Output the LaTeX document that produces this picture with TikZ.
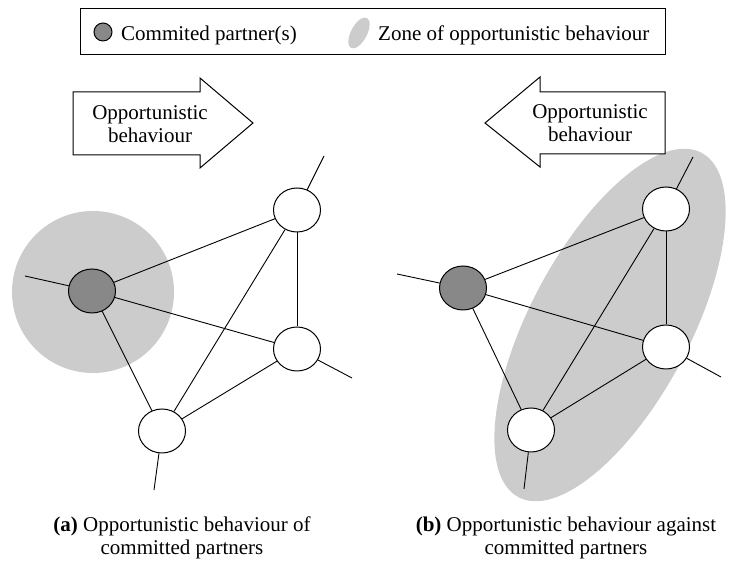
\documentclass[tikz,border=0pt]{standalone}
\usepackage{fontspec}
\setmainfont{Liberation Serif}
\usetikzlibrary{shapes.geometric}
\definecolor{zonegray}{RGB}{204,204,204}
\definecolor{darkpartner}{RGB}{136,136,136}
\tikzset{
  partner/.style={ellipse, draw=black, line width=1pt, fill=white, minimum width=47pt, minimum height=44pt, inner sep=0pt},
  committed/.style={partner, fill=darkpartner},
  link/.style={draw=black, line width=0.9pt},
  zone/.style={fill=zonegray},
  bigarrow/.style={draw=black, fill=white, line width=1pt},
  txt/.style={inner sep=0pt, anchor=base},
  txtw/.style={inner sep=0pt, anchor=base west}
}
\begin{document}
\begin{tikzpicture}[x=1pt,y=1pt,font=\fontsize{21}{23}\selectfont]
\useasboundingbox (0,0) rectangle (730,561);
% legend
\node[draw=black, line width=1pt, minimum width=585pt, minimum height=46pt, inner sep=0pt] (legend) at (372.5,529) {};
\node[circle, draw=black, line width=1pt, fill=darkpartner, minimum size=18pt, inner sep=0pt] (legdot) at (103,529) {};
\node[txtw] (legtxt1) at (121,520) {Commited partner(s)};
\fill[zone, rotate around={62:(359,528)}] (359,528) ellipse (17 and 8);
\node[txtw] (legtxt2) at (378,520) {Zone of opportunistic behaviour};
% zones
\fill[zone] (93,269) circle (81);
\fill[zone, rotate around={62:(610,236)}] (610,236) ellipse (195 and 80);
% arrows
\draw[bigarrow] (73,469) -- (200,469) -- (200,483) -- (253,438) -- (200,393) -- (200,406) -- (73,406) -- cycle;
\node[txt] (arra1) at (150,441) {Opportunistic};
\node[txt] (arra2) at (150,418) {behaviour};
\draw[bigarrow] (665,469) -- (540,469) -- (540,484) -- (485,438) -- (540,394) -- (540,407) -- (665,407) -- cycle;
\node[txt] (arrb1) at (590,442) {Opportunistic};
\node[txt] (arrb2) at (590,419) {behaviour};
% left network
\node[committed] (A1) at (92,270) {};
\node[partner] (T1) at (297,351) {};
\node[partner] (M1) at (297,212) {};
\node[partner] (B1) at (162,130) {};
\coordinate (sA1) at (25,285);
\coordinate (sT1) at (324,405);
\coordinate (sM1) at (352,183);
\coordinate (sB1) at (154,71);
\draw[link] (A1) -- (T1);
\draw[link] (A1) -- (M1);
\draw[link] (A1) -- (B1);
\draw[link] (T1) -- (M1);
\draw[link] (T1) -- (B1);
\draw[link] (M1) -- (B1);
\draw[link] (A1) -- (sA1);
\draw[link] (T1) -- (sT1);
\draw[link] (M1) -- (sM1);
\draw[link] (B1) -- (sB1);
% right network
\node[committed] (A2) at (463,273) {};
\node[partner] (T2) at (666,352) {};
\node[partner] (M2) at (666,214) {};
\node[partner] (B2) at (531,131) {};
\coordinate (sA2) at (397,287);
\coordinate (sT2) at (693,404);
\coordinate (sM2) at (721,184);
\coordinate (sB2) at (524,72);
\draw[link] (A2) -- (T2);
\draw[link] (A2) -- (M2);
\draw[link] (A2) -- (B2);
\draw[link] (T2) -- (M2);
\draw[link] (T2) -- (B2);
\draw[link] (M2) -- (B2);
\draw[link] (A2) -- (sA2);
\draw[link] (T2) -- (sT2);
\draw[link] (M2) -- (sM2);
\draw[link] (B2) -- (sB2);
% captions
\node[txt] (capa1) at (182,29) {\textbf{(a)} Opportunistic behaviour of};
\node[txt] (capa2) at (182,6) {committed partners};
\node[txt] (capb1) at (566,29) {\textbf{(b)} Opportunistic behaviour against};
\node[txt] (capb2) at (566,6) {committed partners};
\end{tikzpicture}
\end{document}
